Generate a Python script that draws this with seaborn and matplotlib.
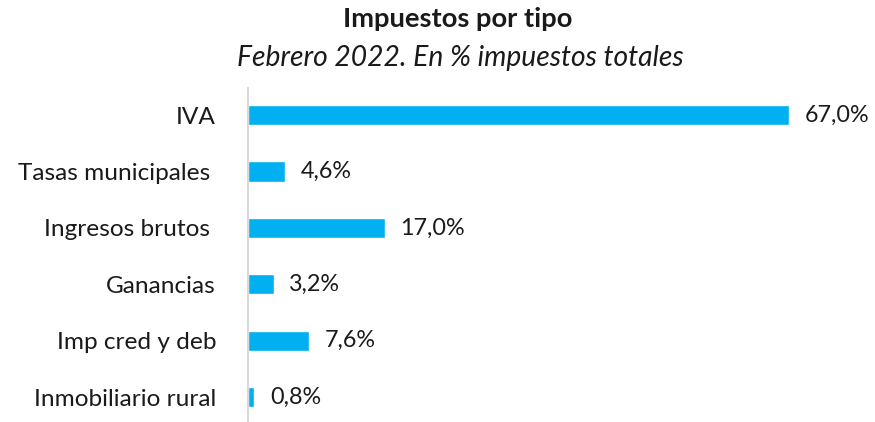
import pandas as pd
import matplotlib.pyplot as plt
import seaborn as sns

categorias = ["IVA", "Tasas municipales ", "Ingresos brutos ", "Ganancias",
              "Imp cred y deb", "Inmobiliario rural"]
valores = [67.0, 4.6, 17.0, 3.2, 7.6, 0.8]

CYAN = "#00B0F0"

sns.set_theme(style="white")
plt.rcParams["font.family"] = ["Lato", "DejaVu Sans"]

df = pd.DataFrame({"tipo": categorias, "pct": valores})

fig = plt.figure(figsize=(8.75, 4.22), dpi=100)
ax = fig.add_axes([248 / 875, 0, (860 - 248) / 875, (422 - 88) / 422])

sns.barplot(data=df, x="pct", y="tipo", color=CYAN, width=0.36,
            saturation=1, orient="h", ax=ax)

ax.set_xlim(0, (860 - 248) / (541 / 67.0))
ax.set_ylim(5.44, -0.48)

for i, v in enumerate(valores):
    ax.text(v + 1.9, i, f"{v:.1f}%".replace(".", ","), va="center", ha="left",
            fontsize=16.8, color="#1a1a1a")

ax.set_xlabel("")
ax.set_ylabel("")
ax.set_xticks([])
ax.tick_params(axis="y", length=0, pad=23, labelsize=17.6, labelcolor="#1a1a1a")
for s in ["top", "right", "bottom"]:
    ax.spines[s].set_visible(False)
ax.spines["left"].set_color("#d9d9d9")
ax.spines["left"].set_linewidth(1.5)

fig.text(0.523, 0.955, "Impuestos por tipo", ha="center", va="center",
         fontsize=19.7, fontweight="bold", color="#1a1a1a")
fig.text(0.526, 0.862, "Febrero 2022. En % impuestos totales", ha="center",
         va="center", fontsize=20.3, style="italic", color="#1a1a1a")

fig.savefig("out.png", dpi=100)
